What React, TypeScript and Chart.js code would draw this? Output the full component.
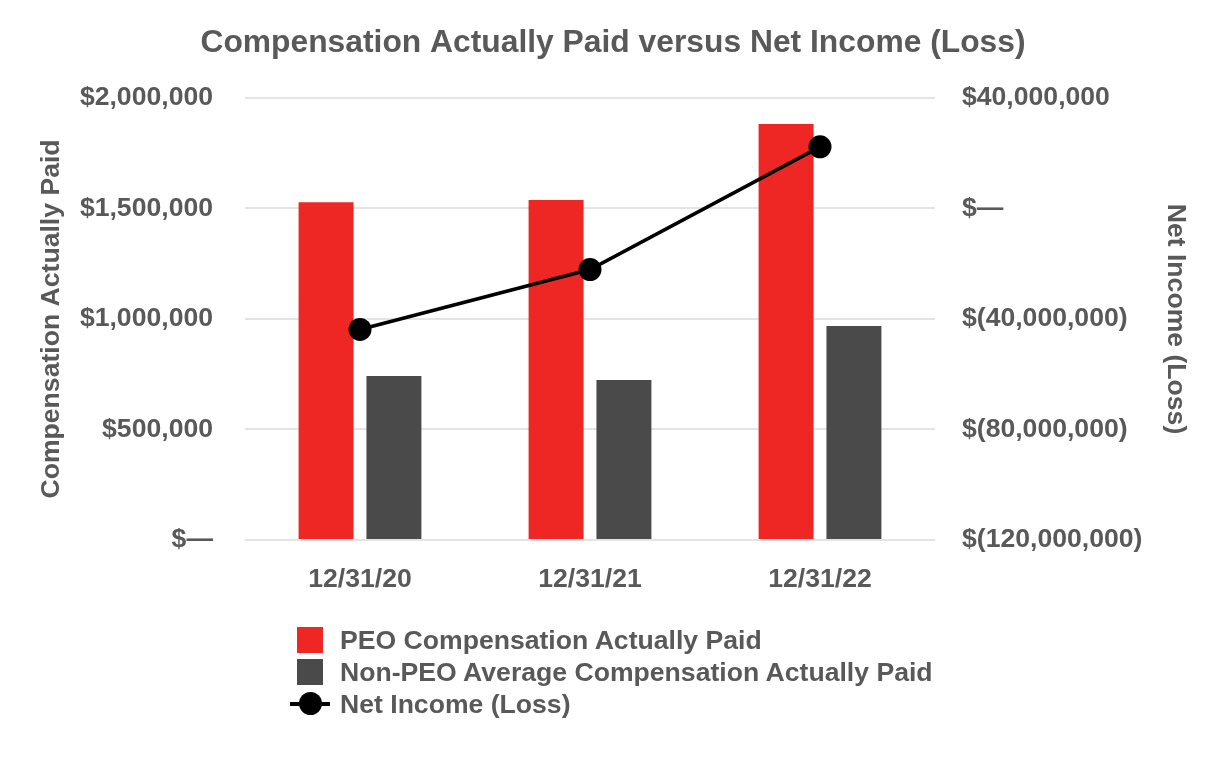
import React, { useEffect, useRef } from "react";
import { Chart, registerables } from "chart.js";

Chart.register(...registerables);

const categories = ["12/31/20", "12/31/21", "12/31/22"];
const peoCap = [1528000, 1538000, 1882000];
const nonPeoCap = [742000, 724000, 968000];
const netIncome = [-43800000, -22100000, 22300000];
const leftTicks = [0, 500000, 1000000, 1500000, 2000000];
const rightTicks = [-120000000, -80000000, -40000000, 0, 40000000];

const seriesNames = [
  "PEO Compensation Actually Paid",
  "Non-PEO Average Compensation Actually Paid",
  "Net Income (Loss)",
];

const FONT = "'Liberation Sans', Arial, Helvetica, sans-serif";
const TEXT = "#595959";
const RED = "#EE2724";
const GREY = "#4A4A4A";
const GRID = "#E4E4E4";

function fmt(v: number): string {
  if (v === 0) return "$\u2014";
  const s = Math.abs(v).toLocaleString("en-US");
  return v < 0 ? `$(${s})` : `$${s}`;
}

export default function App() {
  const ref = useRef<HTMLCanvasElement | null>(null);

  useEffect(() => {
    if (!ref.current) return;
    const tickFont = { family: FONT, size: 26.6, weight: "bold" as const };
    const chart = new Chart(ref.current, {
      type: "bar",
      data: {
        labels: categories,
        datasets: [
          {
            type: "line" as const,
            label: seriesNames[2],
            data: netIncome,
            yAxisID: "y1",
            borderColor: "#000000",
            backgroundColor: "#000000",
            borderWidth: 3.5,
            pointRadius: 11.5,
            pointBackgroundColor: "#000000",
            pointBorderWidth: 0,
            order: 0,
          },
          {
            label: seriesNames[0],
            data: peoCap,
            yAxisID: "y",
            backgroundColor: RED,
            categoryPercentage: 0.59,
            barPercentage: 0.81,
            order: 1,
          },
          {
            label: seriesNames[1],
            data: nonPeoCap,
            yAxisID: "y",
            backgroundColor: GREY,
            categoryPercentage: 0.59,
            barPercentage: 0.81,
            order: 2,
          },
        ] as any,
      },
      options: {
        responsive: false,
        animation: false,
        devicePixelRatio: 1,
        layout: { padding: 0 },
        plugins: {
          legend: { display: false },
          tooltip: { enabled: false },
          title: {
            display: true,
            text: "Compensation Actually Paid versus Net Income (Loss)",
            color: TEXT,
            font: { family: FONT, size: 31.8, weight: "bold" },
            padding: { top: 24, bottom: 35.8 },
          },
        },
        scales: {
          x: {
            grid: { display: false },
            border: { display: false },
            ticks: { color: TEXT, font: tickFont, padding: 16 },
            afterFit: (s: any) => {
              s.height = 220;
            },
          },
          y: {
            position: "left",
            min: 0,
            max: 2000000,
            afterBuildTicks: (s: any) => {
              s.ticks = leftTicks.map((v) => ({ value: v }));
            },
            ticks: {
              color: TEXT,
              font: tickFont,
              padding: 32,
              callback: (v: any) => fmt(Number(v)),
            },
            grid: { color: GRID, lineWidth: 2, drawTicks: false },
            border: { display: false },
            title: {
              display: true,
              text: "Compensation Actually Paid",
              color: TEXT,
              font: tickFont,
              padding: { top: 36, bottom: 0 },
            },
            afterFit: (s: any) => {
              s.width = 245;
            },
          },
          y1: {
            position: "right",
            min: -120000000,
            max: 40000000,
            afterBuildTicks: (s: any) => {
              s.ticks = rightTicks.map((v) => ({ value: v }));
            },
            ticks: {
              color: TEXT,
              font: tickFont,
              padding: 27,
              callback: (v: any) => fmt(Number(v)),
            },
            grid: { display: false, drawTicks: false },
            border: { display: false },
            title: {
              display: true,
              text: "Net Income (Loss)",
              color: TEXT,
              font: tickFont,
              padding: { top: 35, bottom: 0 },
            },
            afterFit: (s: any) => {
              s.width = 291;
            },
          },
        },
      } as any,
    });
    return () => chart.destroy();
  }, []);

  const legendText: React.CSSProperties = {
    fontFamily: FONT,
    fontWeight: "bold",
    fontSize: 26.6,
    color: TEXT,
    lineHeight: "32px",
    whiteSpace: "nowrap",
  };

  return (
    <div style={{ position: "fixed", left: 0, top: 0, width: 1226, height: 760, background: "#fff" }}>
      <canvas ref={ref} width={1226} height={760} style={{ width: 1226, height: 760, display: "block" }} />
      <div style={{ position: "absolute", left: 288, top: 624 }}>
        {seriesNames.map((name, i) => (
          <div key={name} style={{ display: "flex", alignItems: "center", height: 32 }}>
            <div style={{ width: 44, height: 32, position: "relative" }}>
              {i < 2 ? (
                <div
                  style={{
                    position: "absolute",
                    left: 9,
                    top: 3,
                    width: 26,
                    height: 26,
                    background: i === 0 ? RED : GREY,
                  }}
                />
              ) : (
                <>
                  <div style={{ position: "absolute", left: 2, top: 14, width: 40, height: 3.5, background: "#000" }} />
                  <div
                    style={{
                      position: "absolute",
                      left: 11,
                      top: 4,
                      width: 23,
                      height: 23,
                      borderRadius: "50%",
                      background: "#000",
                    }}
                  />
                </>
              )}
            </div>
            <div style={{ ...legendText, marginLeft: 8 }}>{name}</div>
          </div>
        ))}
      </div>
    </div>
  );
}
